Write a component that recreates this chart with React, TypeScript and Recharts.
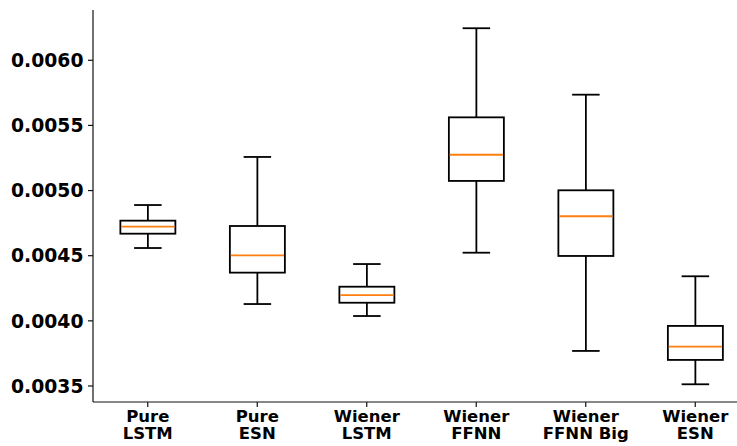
import React from 'react';
import { ComposedChart, Bar, XAxis, YAxis } from 'recharts';

// Five-number summaries per model
const categories = ['Pure\nLSTM', 'Pure\nESN', 'Wiener\nLSTM', 'Wiener\nFFNN', 'Wiener\nFFNN Big', 'Wiener\nESN'];
const whiskerLow = [0.004559, 0.004129, 0.004037, 0.004523, 0.003769, 0.003513];
const quartile1 = [0.004669, 0.00437, 0.004139, 0.005074, 0.004498, 0.0037];
const medians = [0.004723, 0.004503, 0.004198, 0.005275, 0.004803, 0.003802];
const quartile3 = [0.004769, 0.004728, 0.004262, 0.005562, 0.005002, 0.003961];
const whiskerHigh = [0.004889, 0.005258, 0.004436, 0.006246, 0.005736, 0.004342];
const yTicks = [0.0035, 0.004, 0.0045, 0.005, 0.0055, 0.006];

const rows = categories.map((name, i) => ({
  name,
  min: whiskerLow[i],
  q1: quartile1[i],
  median: medians[i],
  q3: quartile3[i],
  max: whiskerHigh[i],
}));

const FONT = '"DejaVu Sans", sans-serif';

// Draws a whole box-and-whisker glyph from the ranged bar [min, max]
const BoxShape = (props: any) => {
  const { x, y, width, height, payload } = props;
  const top = Math.min(y, y + height);
  const bottom = Math.max(y, y + height);
  const span = payload.max - payload.min;
  const yOf = (v: number) => top + ((payload.max - v) / span) * (bottom - top);
  const cx = x + width / 2;
  const capHalf = width / 4;
  const yQ1 = yOf(payload.q1);
  const yQ3 = yOf(payload.q3);
  const yMed = yOf(payload.median);
  const sw = 1.8;
  return (
    <g>
      <line x1={cx} x2={cx} y1={top} y2={yQ3} stroke="#000" strokeWidth={sw} />
      <line x1={cx} x2={cx} y1={yQ1} y2={bottom} stroke="#000" strokeWidth={sw} />
      <line x1={cx - capHalf} x2={cx + capHalf} y1={top} y2={top} stroke="#000" strokeWidth={sw} />
      <line x1={cx - capHalf} x2={cx + capHalf} y1={bottom} y2={bottom} stroke="#000" strokeWidth={sw} />
      <rect x={x} y={yQ3} width={width} height={yQ1 - yQ3} fill="none" stroke="#000" strokeWidth={sw} />
      <line x1={x + sw / 2} x2={x + width - sw / 2} y1={yMed} y2={yMed} stroke="#ff7f0e" strokeWidth={sw} />
    </g>
  );
};

const CategoryTick = (props: any) => {
  const { x, y, payload } = props;
  const lines = String(payload.value).split('\n');
  return (
    <g transform={`translate(${x},${y})`}>
      <text textAnchor="middle" fill="#000" fontFamily={FONT} fontWeight="bold" fontSize={16.5}>
        {lines.map((l, i) => (
          <tspan key={i} x={0} dy={i === 0 ? 12.5 : 17.5}>
            {l}
          </tspan>
        ))}
      </text>
    </g>
  );
};

export default function App() {
  return (
    <div
      style={{
        position: 'fixed',
        left: 0,
        top: 0,
        width: 737,
        height: 446,
        overflow: 'hidden',
        background: '#fff',
      }}
    >
      <ComposedChart
        width={750}
        height={446}
        data={rows}
        margin={{ top: 10, right: 0, bottom: 0, left: 0 }}
        barCategoryGap="25%"
      >
        <XAxis
          xAxisId="main"
          dataKey="name"
          type="category"
          interval={0}
          tickSize={5}
          tickMargin={2}
          height={44}
          tick={<CategoryTick />}
          axisLine={{ stroke: '#111', strokeWidth: 1.2 }}
          tickLine={{ stroke: '#111', strokeWidth: 1.2 }}
        />
        <XAxis
          xAxisId="top"
          orientation="top"
          dataKey="name"
          height={0}
          tick={false}
          tickLine={false}
          axisLine={{ stroke: '#111', strokeWidth: 1.2 }}
        />
        <YAxis
          type="number"
          domain={[0.003377, 0.006386]}
          allowDataOverflow
          ticks={yTicks}
          width={93}
          tickSize={5}
          tickMargin={4.5}
          tickFormatter={(v: number) => v.toFixed(4)}
          tick={{ fill: '#000', fontFamily: FONT, fontWeight: 'bold', fontSize: 18.8 }}
          axisLine={{ stroke: '#111', strokeWidth: 1.2 }}
          tickLine={{ stroke: '#111', strokeWidth: 1.2 }}
        />
        <Bar
          xAxisId="main"
          dataKey={(d: any) => [d.min, d.max]}
          shape={<BoxShape />}
          isAnimationActive={false}
        />
      </ComposedChart>
    </div>
  );
}
